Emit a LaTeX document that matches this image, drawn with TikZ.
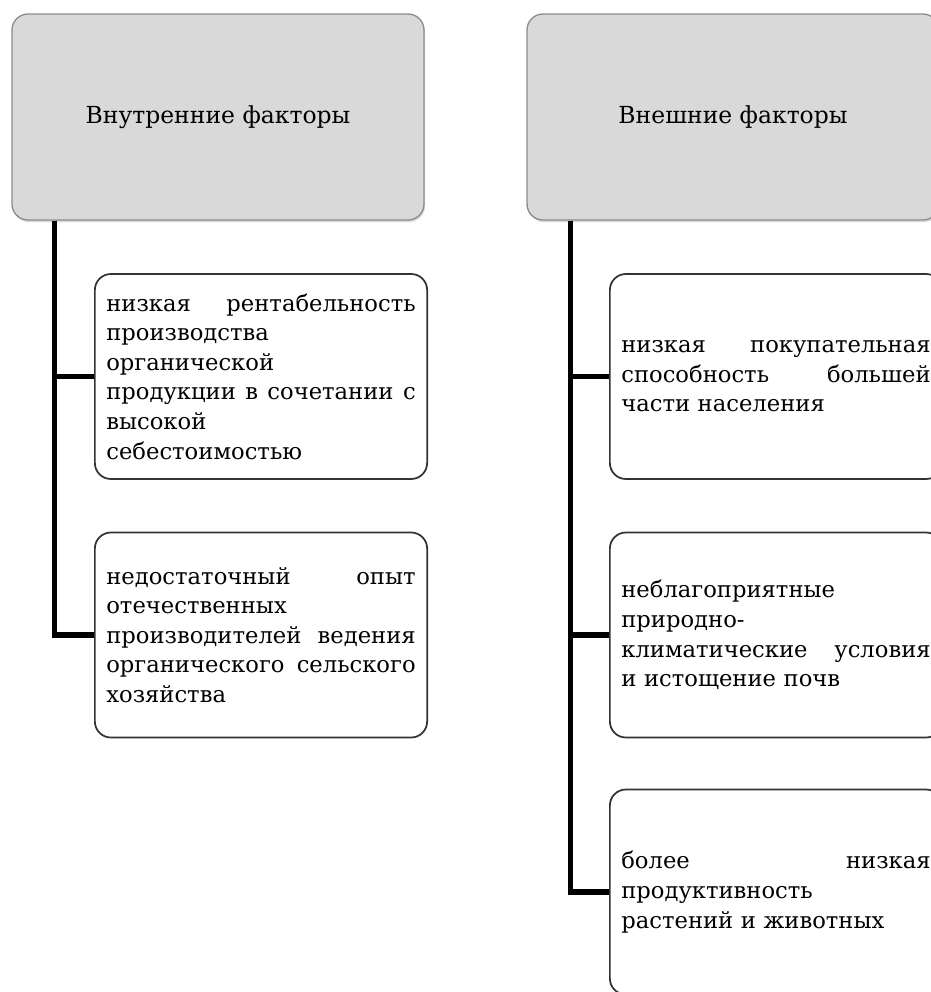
\documentclass[tikz,border=0pt]{standalone}
\usepackage{fontspec}
\setmainfont{DejaVu Serif}
\usetikzlibrary{shadows}

\tikzset{every picture/.style={line width=0.75pt}}
\tikzset{
  header/.style={draw=black!45, fill=black!15, rounded corners=12pt,
    minimum width=309pt, minimum height=154.5pt, line width=1pt,
    font=\fontsize{17.6}{22.2}\selectfont,
    drop shadow={shadow xshift=0.8pt, shadow yshift=-1.6pt, opacity=0.3}},
  factor/.style={draw=black!80, fill=white, rounded corners=12pt,
    text width=232pt, inner xsep=8.6pt, minimum height=153.75pt,
    align=left, line width=1.3pt, font=\fontsize{17}{22.2}\selectfont},
  trunk/.style={line width=4pt, line join=miter}
}

\begin{document}
\begin{tikzpicture}[x=0.75pt,y=0.75pt,yscale=-1,xscale=1]
\useasboundingbox (0,0) rectangle (931,992);

%Headers
\node [header] (hdrL) at (218,117) {Внутренние факторы};
\node [header] (hdrR) at (733,117) {Внешние факторы};

%Internal factors
\node [factor] (inL1) at (261,376.5) {низкая \hfill рентабельность\\
производства\\
органической\\
продукции \hfill в \hfill сочетании \hfill с\\
высокой\\
себестоимостью};
\node [factor] (inL2) at (261,635) {недостаточный \hfill опыт\\
отечественных\\
производителей \hfill ведения\\
органического \hfill сельского\\
хозяйства};

%External factors
\node [factor] (exR1) at (776,376.5) {низкая \hfill покупательная\\
способность \hfill большей\\
части населения};
\node [factor] (exR2) at (776,635) {неблагоприятные\\
природно-\\
климатические \hfill условия\\
и истощение почв};
\node [factor] (exR3) at (776,892) {более \hfill низкая\\
продуктивность\\
растений и животных};

%Connectors
\draw [trunk] ([xshift=32.25pt]hdrL.south west) |- (inL2.west);
\draw [trunk] ([xshift=32.25pt]hdrL.south west) |- (inL1.west);
\draw [trunk] ([xshift=33pt]hdrR.south west) |- (exR3.west);
\draw [trunk] ([xshift=33pt]hdrR.south west) |- (exR2.west);
\draw [trunk] ([xshift=33pt]hdrR.south west) |- (exR1.west);

\end{tikzpicture}
\end{document}
